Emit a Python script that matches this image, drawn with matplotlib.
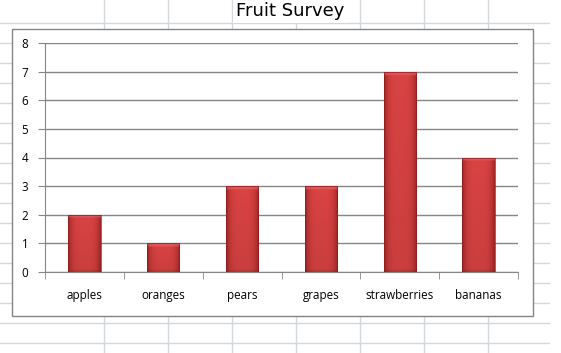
import numpy as np
import matplotlib
matplotlib.use("Agg")
import matplotlib.pyplot as plt
from matplotlib.lines import Line2D
from matplotlib.patches import Rectangle
from matplotlib.colors import to_rgb

categories = ["apples", "oranges", "pears", "grapes", "strawberries", "bananas"]
values = [2, 1, 3, 3, 7, 4]
y_ticks = [0, 1, 2, 3, 4, 5, 6, 7, 8]
title = "Fruit Survey"

W, H = 561, 353
fig = plt.figure(figsize=(W / 100, H / 100), dpi=100)
fig.patch.set_facecolor("white")

def fx(px):
    return px / W

def fy(py):
    return 1 - py / H

grid_c = "#d3d8df"
# spreadsheet gridlines (background)
for k in range(17):
    y = 23.3 + 20 * k
    fig.add_artist(Line2D([0, fx(549)], [fy(y), fy(y)], color=grid_c, lw=1.0, zorder=-3))
for x in [104, 168, 232, 296, 360, 424, 488]:
    fig.add_artist(Line2D([fx(x), fx(x)], [0, 1], color=grid_c, lw=1.0, zorder=-3))

# chart area
fig.add_artist(Rectangle((fx(12), fy(316)), fx(533) - fx(12), fy(29) - fy(316),
                         transform=fig.transFigure, facecolor="white",
                         edgecolor="#858585", lw=1.0, zorder=-2))

ax = fig.add_axes([fx(45), fy(272), fx(518) - fx(45), fy(43) - fy(272)])
ax.set_zorder(0)
ax.set_facecolor("none")

x = np.arange(len(categories))
bw = 0.41
bars = ax.bar(x, values, width=bw, color="#c83838", zorder=2)

edge = np.array(to_rgb("#a02424"))
center = np.array(to_rgb("#d94343"))
top_light = np.array(to_rgb("#e86464"))
for b, v in zip(bars, values):
    nx, ny = 64, 300
    u = np.linspace(-1, 1, nx)
    prof = np.clip(1 - np.abs(u) ** 4, 0, 1)
    row = edge[None, :] + (center - edge)[None, :] * prof[:, None]
    img = np.repeat(row[None, :, :], ny, axis=0)
    yy = np.linspace(v, 0, ny)
    # top bevel
    bev = 0.12
    topmask = (v - yy) < bev
    img[topmask] = img[topmask] * 0.45 + top_light * 0.55
    # darker bottom
    bot = np.clip(1 - yy / 0.1, 0, 1)[:, None, None]
    img = img * (1 - 0.15 * bot)
    # slight vertical darkening toward bottom
    shade = (0.93 + 0.07 * (yy / max(v, 1e-6)))[:, None, None]
    img = np.clip(img * shade, 0, 1)
    b.set_facecolor("none")
    im = ax.imshow(img, extent=(b.get_x(), b.get_x() + b.get_width(), 0, v),
                   aspect="auto", zorder=2, interpolation="bilinear")
    im.set_clip_path(b)
    ax.add_patch(Rectangle((b.get_x(), 0), b.get_width(), v, fill=False,
                           edgecolor="#8c1c1c", lw=0.5, zorder=3))

ax.set_xlim(-0.5, len(categories) - 0.5)
ax.set_ylim(0, 8)
ax.set_yticks(y_ticks)
ax.yaxis.grid(True, color="#868686", lw=1.0)
ax.set_axisbelow(True)
for s in ["top", "right"]:
    ax.spines[s].set_visible(False)
ax.spines["left"].set_color("#868686")
ax.spines["bottom"].set_color("#868686")

ax.set_xticks(x)
ax.set_xticklabels(categories)
ax.set_xticks(np.arange(len(categories) + 1) - 0.5, minor=True)
ax.tick_params(axis="x", which="major", length=0, pad=12, labelsize=8.4, labelcolor="black")
ax.tick_params(axis="x", which="minor", length=5, color="#868686", direction="out")
ax.tick_params(axis="y", length=5, color="#868686", pad=7, labelsize=8.4)
for lab in ax.get_xticklabels() + ax.get_yticklabels():
    lab.set_fontfamily("Open Sans")

fig.text(fx(290), fy(11), title, ha="center", va="center", fontsize=13,
         family="DejaVu Sans", color="black",
         bbox=dict(facecolor="white", edgecolor="none", pad=2))

fig.savefig("out.png", dpi=100)
